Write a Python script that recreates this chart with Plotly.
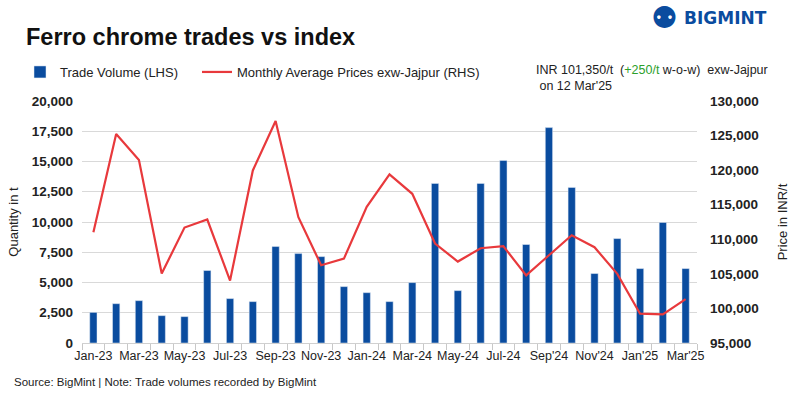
import plotly.graph_objects as go

months = ["Jan-23", "Feb-23", "Mar-23", "Apr-23", "May-23", "Jun-23", "Jul-23", "Aug-23",
          "Sep-23", "Oct-23", "Nov-23", "Dec-23", "Jan-24", "Feb-24", "Mar-24", "Apr-24",
          "May-24", "Jun-24", "Jul-24", "Aug-24", "Sep'24", "Oct'24", "Nov'24", "Dec'24",
          "Jan'25", "Feb'25", "Mar'25"]
volume = [2530, 3250, 3500, 2260, 2180, 5990, 3670, 3420, 7970, 7390, 7140, 4660, 4160,
          3420, 4990, 13190, 4330, 13190, 15090, 8140, 17800, 12860, 5740, 8630, 6150,
          9960, 6150]
price = [111020, 125220, 121450, 105040, 111700, 112860, 104030, 119960, 127100, 113200,
         106240, 107210, 114700, 119380, 116580, 109380, 106780, 108700, 108990, 104790,
         107690, 110590, 108850, 105000, 99240, 99140, 101350]

xs = list(range(len(months)))

BLUE = "#0a4c9f"
RED = "#e8393c"
FONT = "Liberation Sans"
W, H = 799, 398

fig = go.Figure()
fig.add_trace(go.Bar(x=xs, y=volume, name="Trade Volume (LHS)", marker_color=BLUE,
                     width=0.32, yaxis="y", legend="legend"))
fig.add_trace(go.Scatter(x=xs, y=price, name="Monthly Average Prices exw-Jajpur (RHS)",
                         mode="lines", line=dict(color=RED, width=2.2), yaxis="y2",
                         legend="legend2"))

leg_common = dict(orientation="h", xref="container", yref="container", yanchor="middle",
                  xanchor="left", font=dict(size=13, family=FONT, color="#222"),
                  bgcolor="rgba(0,0,0,0)")

fig.update_layout(
    width=W, height=H,
    margin=dict(l=82, r=102, t=101, b=55, autoexpand=False),
    paper_bgcolor="white", plot_bgcolor="white",
    font=dict(family=FONT, color="#222222", size=12),
    showlegend=True,
    legend=dict(x=20 / W, y=1 - 72 / H, **leg_common),
    legend2=dict(x=197 / W, y=1 - 72 / H, **leg_common),
    xaxis=dict(
        range=[-0.5, len(months) - 0.5],
        tickmode="array", tickvals=xs[::2], ticktext=months[::2],
        ticks="", showgrid=False, showline=True, linecolor="#d0d0d0", linewidth=1,
        tickfont=dict(size=12.5, family=FONT, color="#222"),
        minor=dict(tick0=-0.5, dtick=1, ticks="outside", ticklen=6, tickcolor="#c8c8c8",
                   showgrid=False),
        automargin=False, ticklabelstandoff=1,
    ),
    yaxis=dict(
        range=[0, 20000], dtick=2500, tickformat=",", showgrid=True,
        gridcolor="#d9d9d9", gridwidth=1, zeroline=False, automargin=False,
        ticklabelstandoff=8,
        tickfont=dict(size=13.5, family=FONT, color="#222", weight="bold"),
        title=dict(text="Quantity in t", font=dict(size=13, family=FONT, color="#222"),
                   standoff=10),
    ),
    yaxis2=dict(
        range=[95000, 130000], dtick=5000, tickformat=",", overlaying="y", side="right",
        showgrid=False, zeroline=False, automargin=False, ticklabelstandoff=12,
        tickfont=dict(size=13.5, family=FONT, color="#222", weight="bold"),
        title=dict(text="Price in INR/t", font=dict(size=13, family=FONT, color="#222"),
                   standoff=20),
    ),
)

fig.add_annotation(
    text="<b>Ferro chrome trades vs index</b>", xref="paper", yref="paper",
    x=(24 - 82) / 617, y=1 + (101 - 37) / 242, xanchor="left", yanchor="middle",
    showarrow=False, font=dict(size=23.5, family=FONT, color="#111"),
)
fig.add_annotation(
    text="INR 101,350/t  (<span style='color:#2ca02c'>+250/t</span> w-o-w)  exw-Jajpur<br> on 12 Mar'25",
    xref="paper", yref="paper", x=(535 - 82) / 617, y=1 + (101 - 78) / 242,
    xanchor="left", yanchor="middle", align="left", showarrow=False,
    font=dict(size=12.5, family=FONT, color="#222"),
)
fig.add_annotation(
    text="Source: BigMint | Note: Trade volumes recorded by BigMint", xref="paper", yref="paper",
    x=(12 - 82) / 617, y=-(382 - 343) / 242, xanchor="left", yanchor="middle",
    showarrow=False, font=dict(size=11.5, family=FONT, color="#222"),
)
fig.add_annotation(
    text="<b>\u2689</b>", xref="paper", yref="paper", x=(666 - 82) / 617, y=1 + (101 - 18) / 242,
    xanchor="center", yanchor="middle", showarrow=False,
    font=dict(size=30, family="DejaVu Sans", color=BLUE),
)
fig.add_annotation(
    text="<b>BIGMINT</b>", xref="paper", yref="paper", x=(684 - 82) / 617,
    y=1 + (101 - 18) / 242, xanchor="left", yanchor="middle", showarrow=False,
    font=dict(size=17, family="DejaVu Sans", color=BLUE),
)

fig.write_html(
    "out.html",
    config={"displayModeBar": False},
    post_script="document.body.style.margin='0';document.body.style.padding='0';",
)
